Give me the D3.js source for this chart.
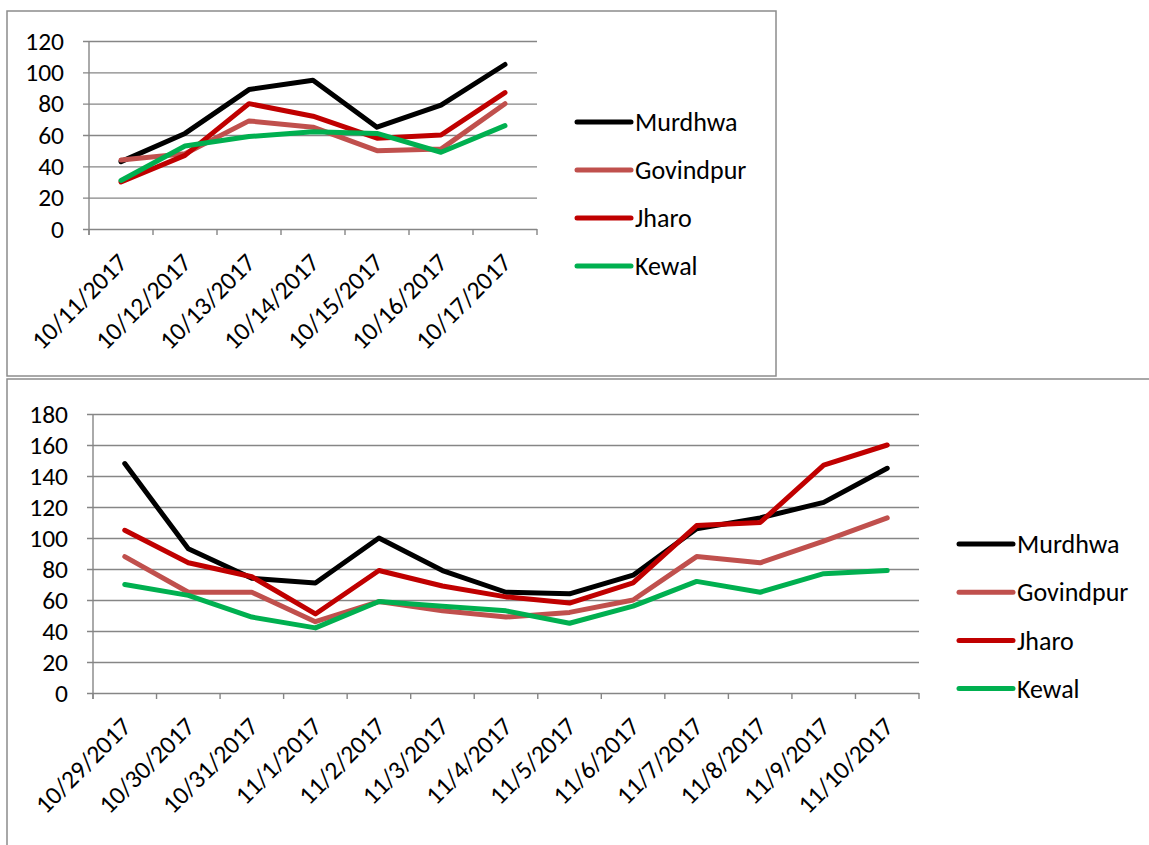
<!DOCTYPE html>
<html>
<head>
<meta charset="utf-8">
<script src="https://cdn.jsdelivr.net/npm/d3@7"></script>
<style>
  html, body { margin: 0; padding: 0; background: #fff; }
  svg { display: block; }
  text { font-family: Carlito, Lato, "Liberation Sans", sans-serif; fill: #000; }
</style>
</head>
<body>
<svg id="chart" width="1149" height="845"></svg>
<script>
// Series names and colours
const seriesNames = ["Murdhwa", "Govindpur", "Jharo", "Kewal"];
const seriesColors = ["#000000", "#C0504D", "#C00000", "#00B050"];

// First period (October)
const datesA = ["10/11/2017", "10/12/2017", "10/13/2017", "10/14/2017", "10/15/2017", "10/16/2017", "10/17/2017"];
const murdhwaA   = [43, 61, 89, 95, 65, 79, 105];
const govindpurA = [44, 48, 69, 65, 50, 51, 80];
const jharoA     = [30, 47, 80, 72, 58, 60, 87];
const kewalA     = [31, 53, 59, 62, 61, 49, 66];
const ticksA = [0, 20, 40, 60, 80, 100, 120];

// Second period (late October - November)
const datesB = ["10/29/2017", "10/30/2017", "10/31/2017", "11/1/2017", "11/2/2017", "11/3/2017", "11/4/2017",
                "11/5/2017", "11/6/2017", "11/7/2017", "11/8/2017", "11/9/2017", "11/10/2017"];
const murdhwaB   = [148, 93, 74, 71, 100, 79, 65, 64, 76, 106, 113, 123, 145];
const govindpurB = [88, 65, 65, 46, 59, 53, 49, 52, 60, 88, 84, 98, 113];
const jharoB     = [105, 84, 75, 51, 79, 69, 62, 58, 71, 108, 110, 147, 160];
const kewalB     = [70, 63, 49, 42, 59, 56, 53, 45, 56, 72, 65, 77, 79];
const ticksB = [0, 20, 40, 60, 80, 100, 120, 140, 160, 180];

const svg = d3.select("#chart");
const gridColor = "#868686";

function drawChart(cfg) {
  const g = svg.append("g");

  // chart frame
  g.append("rect")
    .attr("x", cfg.frame[0]).attr("y", cfg.frame[1])
    .attr("width", cfg.frame[2]).attr("height", cfg.frame[3])
    .attr("fill", "#fff").attr("stroke", "#8c8c8c").attr("stroke-width", 1.5);

  const x = d3.scaleBand().domain(cfg.dates).range([cfg.left, cfg.right]);
  const y = d3.scaleLinear().domain([0, d3.max(cfg.ticks)]).range([cfg.bottom, cfg.top]);

  // horizontal gridlines with y tick labels
  const yAxis = d3.axisLeft(y).tickValues(cfg.ticks).tickSize(-(cfg.right - cfg.left)).tickPadding(25);
  const ya = g.append("g").attr("transform", `translate(${cfg.left},0)`).call(yAxis);
  ya.select(".domain").remove();
  ya.selectAll(".tick line").attr("stroke", gridColor).attr("stroke-width", 1.4).attr("x1", -6);
  ya.selectAll(".tick text").attr("font-size", cfg.fontSize).attr("fill", "#000")
    .style("font-family", "Carlito, Lato, 'Liberation Sans', sans-serif");

  // vertical axis line
  g.append("line").attr("x1", cfg.left).attr("x2", cfg.left)
    .attr("y1", cfg.top).attr("y2", cfg.bottom + 6)
    .attr("stroke", gridColor).attr("stroke-width", 1.4);

  // category tick marks between categories
  const edges = cfg.dates.map(d => x(d)).concat([cfg.right]);
  g.selectAll(".xt").data(edges).join("line")
    .attr("x1", d => d).attr("x2", d => d)
    .attr("y1", cfg.bottom).attr("y2", cfg.bottom + 6)
    .attr("stroke", gridColor).attr("stroke-width", 1.4);

  // rotated date labels
  g.selectAll(".xl").data(cfg.dates).join("text")
    .attr("text-anchor", "end")
    .attr("font-size", cfg.fontSize)
    .attr("transform", d => `translate(${x(d) + x.bandwidth() / 2 + cfg.labelDx},${cfg.bottom + cfg.labelDy}) rotate(-45)`)
    .text(d => d);

  // series lines
  const line = d3.line()
    .x((d, i) => x(cfg.dates[i]) + x.bandwidth() / 2)
    .y(d => y(d));
  cfg.series.forEach((vals, k) => {
    g.append("path").datum(vals)
      .attr("fill", "none")
      .attr("stroke", seriesColors[k])
      .attr("stroke-width", 5)
      .attr("stroke-linejoin", "round")
      .attr("stroke-linecap", "round")
      .attr("d", line);
  });

  // legend
  seriesNames.forEach((name, k) => {
    const ly = cfg.legendY[0] + k * cfg.legendY[1];
    g.append("line")
      .attr("x1", cfg.legendX).attr("x2", cfg.legendX + 54)
      .attr("y1", ly).attr("y2", ly)
      .attr("stroke", seriesColors[k]).attr("stroke-width", 5).attr("stroke-linecap", "round");
    g.append("text")
      .attr("x", cfg.legendX + 58).attr("y", ly)
      .attr("dy", "0.35em")
      .attr("font-size", cfg.legendFontSize)
      .text(name);
  });
}

drawChart({
  frame: [7, 11, 769, 365],
  dates: datesA, ticks: ticksA,
  series: [murdhwaA, govindpurA, jharoA, kewalA],
  left: 89, right: 537, top: 41, bottom: 229,
  fontSize: 25.5, legendFontSize: 26, labelDx: 8, labelDy: 35,
  legendX: 577, legendY: [122, 48]
});

drawChart({
  frame: [7, 379, 1160, 480],
  dates: datesB, ticks: ticksB,
  series: [murdhwaB, govindpurB, jharoB, kewalB],
  left: 93, right: 919, top: 414, bottom: 693,
  fontSize: 25.5, legendFontSize: 26, labelDx: 8, labelDy: 35,
  legendX: 959, legendY: [544, 48.2]
});
</script>
</body>
</html>
